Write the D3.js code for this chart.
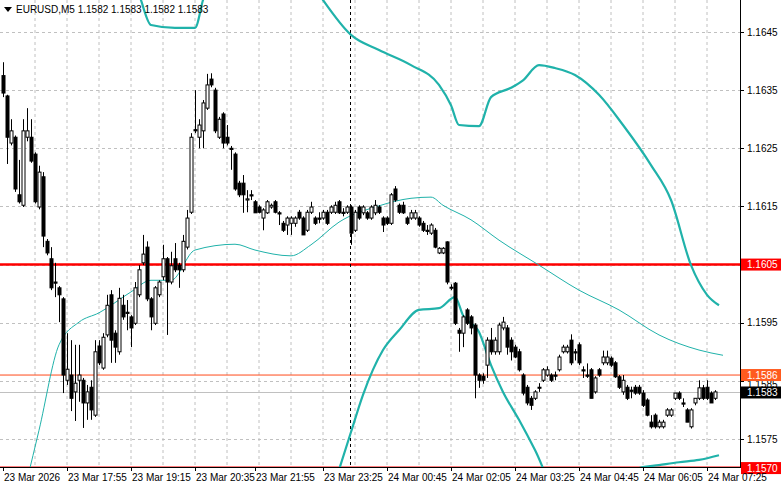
<!DOCTYPE html>
<html><head><meta charset="utf-8">
<script src="https://cdn.jsdelivr.net/npm/d3@7"></script>
<style>body{margin:0;background:#fff}svg{display:block}text{font-family:"Liberation Sans",Arial,sans-serif;font-size:10px}</style>
</head><body><svg id="c" width="781" height="489"></svg>
<script>
const opens=[1.16375,1.16340,1.16259,1.16269,1.16170,1.16152,1.16269,1.16269,1.16240,1.16149,1.16201,1.16090,1.16060,1.16020,1.16010,1.15991,1.15851,1.15860,1.15831,1.15851,1.15851,1.15812,1.15839,1.15791,1.15910,1.15872,1.15929,1.15998,1.15932,1.15900,1.15980,1.15968,1.15960,1.15949,1.15998,1.16053,1.16080,1.15991,1.15949,1.15998,1.16029,1.16060,1.16020,1.16060,1.16049,1.16041,1.16080,1.16140,1.16282,1.16269,1.16280,1.16319,1.16369,1.16350,1.16269,1.16309,1.16269,1.16250,1.16240,1.16190,1.16190,1.16161,1.16170,1.16158,1.16149,1.16130,1.16139,1.16149,1.16158,1.16139,1.16121,1.16118,1.16121,1.16121,1.16140,1.16130,1.16109,1.16140,1.16130,1.16130,1.16130,1.16140,1.16140,1.16140,1.16158,1.16140,1.16140,1.16149,1.16109,1.16149,1.16139,1.16139,1.16130,1.16139,1.16149,1.16130,1.16130,1.16121,1.16180,1.16152,1.16152,1.16130,1.16130,1.16130,1.16130,1.16121,1.16109,1.16104,1.16109,1.16070,1.16070,1.16089,1.16011,1.16018,1.15937,1.15932,1.15972,1.15960,1.15946,1.15860,1.15858,1.15877,1.15920,1.15900,1.15900,1.15941,1.15941,1.15920,1.15908,1.15900,1.15860,1.15839,1.15820,1.15820,1.15839,1.15851,1.15860,1.15860,1.15860,1.15869,1.15900,1.15900,1.15920,1.15900,1.15912,1.15869,1.15860,1.15869,1.15831,1.15869,1.15881,1.15881,1.15889,1.15881,1.15857,1.15831,1.15839,1.15834,1.15839,1.15839,1.15829,1.15817,1.15779,1.15791,1.15771,1.15771,1.15791,1.15791,1.15820,1.15829,1.15812,1.15800,1.15771,1.15812,1.15820,1.15838,1.15839,1.15829,1.15820];
const highs=[1.16398,1.16342,1.16300,1.16272,1.16230,1.16300,1.16319,1.16300,1.16243,1.16220,1.16209,1.16094,1.16080,1.16053,1.16013,1.15994,1.15932,1.15920,1.15912,1.15912,1.15855,1.15843,1.15851,1.15920,1.15920,1.15932,1.15998,1.16006,1.15937,1.16010,1.15998,1.15989,1.15963,1.16020,1.16049,1.16101,1.16090,1.15994,1.16013,1.16023,1.16084,1.16063,1.16072,1.16087,1.16053,1.16101,1.16144,1.16276,1.16350,1.16300,1.16333,1.16378,1.16379,1.16354,1.16304,1.16312,1.16290,1.16254,1.16243,1.16194,1.16204,1.16178,1.16178,1.16161,1.16152,1.16147,1.16161,1.16155,1.16161,1.16142,1.16125,1.16133,1.16133,1.16133,1.16144,1.16133,1.16144,1.16158,1.16133,1.16140,1.16144,1.16144,1.16152,1.16158,1.16161,1.16147,1.16152,1.16152,1.16144,1.16152,1.16152,1.16142,1.16152,1.16161,1.16152,1.16133,1.16133,1.16173,1.16185,1.16155,1.16158,1.16133,1.16144,1.16144,1.16133,1.16125,1.16118,1.16121,1.16113,1.16080,1.16080,1.16090,1.16016,1.16020,1.15941,1.15963,1.15975,1.15963,1.15949,1.15863,1.15863,1.15925,1.15941,1.15925,1.15950,1.15960,1.15946,1.15925,1.15912,1.15905,1.15863,1.15843,1.15824,1.15834,1.15846,1.15872,1.15875,1.15863,1.15866,1.15895,1.15912,1.15912,1.15930,1.15905,1.15916,1.15875,1.15880,1.15872,1.15858,1.15872,1.15902,1.15902,1.15892,1.15884,1.15860,1.15860,1.15843,1.15840,1.15843,1.15843,1.15834,1.15820,1.15791,1.15794,1.15783,1.15783,1.15803,1.15803,1.15829,1.15832,1.15820,1.15803,1.15803,1.15820,1.15851,1.15843,1.15851,1.15832,1.15834];
const lows=[1.16338,1.16223,1.16255,1.16175,1.16155,1.16149,1.16262,1.16225,1.16155,1.16145,1.16080,1.16066,1.16006,1.15994,1.15951,1.15829,1.15843,1.15798,1.15781,1.15814,1.15769,1.15783,1.15783,1.15788,1.15877,1.15869,1.15925,1.15881,1.15881,1.15895,1.15955,1.15937,1.15908,1.15946,1.15994,1.16049,1.15987,1.15937,1.15946,1.15994,1.16023,1.15929,1.16016,1.16037,1.16010,1.16037,1.16076,1.16137,1.16276,1.16250,1.16250,1.16316,1.16355,1.16276,1.16266,1.16250,1.16255,1.16213,1.16177,1.16166,1.16139,1.16140,1.16161,1.16139,1.16138,1.16109,1.16137,1.16146,1.16138,1.16118,1.16106,1.16101,1.16101,1.16115,1.16127,1.16101,1.16106,1.16137,1.16118,1.16121,1.16127,1.16118,1.16137,1.16137,1.16137,1.16133,1.16137,1.16084,1.16106,1.16127,1.16135,1.16127,1.16127,1.16135,1.16137,1.16106,1.16118,1.16118,1.16158,1.16137,1.16137,1.16118,1.16127,1.16127,1.16115,1.16106,1.16101,1.16101,1.16078,1.16068,1.16068,1.16016,1.16006,1.15946,1.15900,1.15908,1.15946,1.15930,1.15820,1.15838,1.15845,1.15855,1.15895,1.15895,1.15895,1.15937,1.15895,1.15885,1.15889,1.15866,1.15825,1.15808,1.15800,1.15817,1.15831,1.15848,1.15857,1.15848,1.15851,1.15866,1.15897,1.15897,1.15877,1.15885,1.15877,1.15855,1.15855,1.15820,1.15828,1.15857,1.15877,1.15877,1.15874,1.15855,1.15836,1.15826,1.15817,1.15820,1.15826,1.15826,1.15805,1.15789,1.15768,1.15768,1.15768,1.15768,1.15788,1.15788,1.15817,1.15817,1.15805,1.15779,1.15768,1.15808,1.15817,1.15817,1.15817,1.15812,1.15817];
const closes=[1.16345,1.16269,1.16280,1.16180,1.16158,1.16280,1.16280,1.16228,1.16158,1.16209,1.16099,1.16070,1.16010,1.16018,1.15998,1.15860,1.15870,1.15820,1.15846,1.15860,1.15812,1.15831,1.15800,1.15900,1.15881,1.15925,1.15980,1.15920,1.15908,1.15992,1.15960,1.15966,1.15941,1.16010,1.16041,1.16068,1.15991,1.15960,1.16010,1.16020,1.16060,1.16020,1.16048,1.16041,1.16041,1.16090,1.16130,1.16269,1.16280,1.16290,1.16328,1.16359,1.16359,1.16280,1.16300,1.16259,1.16259,1.16248,1.16180,1.16170,1.16170,1.16163,1.16168,1.16139,1.16140,1.16144,1.16158,1.16152,1.16140,1.16137,1.16109,1.16130,1.16130,1.16130,1.16130,1.16101,1.16140,1.16149,1.16121,1.16128,1.16140,1.16121,1.16149,1.16152,1.16139,1.16138,1.16149,1.16104,1.16140,1.16130,1.16149,1.16130,1.16149,1.16152,1.16140,1.16118,1.16121,1.16170,1.16161,1.16140,1.16139,1.16121,1.16139,1.16139,1.16118,1.16109,1.16107,1.16118,1.16080,1.16078,1.16078,1.16020,1.16011,1.15949,1.15932,1.15960,1.15949,1.15941,1.15860,1.15851,1.15851,1.15920,1.15900,1.15920,1.15946,1.15951,1.15908,1.15900,1.15891,1.15869,1.15829,1.15812,1.15808,1.15831,1.15838,1.15869,1.15869,1.15851,1.15858,1.15891,1.15908,1.15908,1.15881,1.15898,1.15881,1.15867,1.15858,1.15820,1.15855,1.15860,1.15891,1.15891,1.15877,1.15857,1.15839,1.15851,1.15820,1.15832,1.15829,1.15829,1.15808,1.15791,1.15771,1.15771,1.15779,1.15779,1.15800,1.15800,1.15829,1.15820,1.15810,1.15779,1.15800,1.15820,1.15838,1.15820,1.15820,1.15812,1.15831];
const upperIdx=[25,34,37,43,48,50,53,67,80,87,94,102,109,112,114,119,122,127,130,134,138,143,149,155,162,167,172,176,179];
const upperVal=[1.16603,1.16514,1.16462,1.16457,1.16457,1.16505,1.16574,1.16660,1.16505,1.16445,1.16419,1.16393,1.16359,1.16324,1.16290,1.16288,1.16338,1.16354,1.16367,1.16393,1.16388,1.16376,1.16342,1.16290,1.16221,1.16161,1.16049,1.15998,1.15980];
const lowerIdx=[84,87,90,95,99,104,109,113,115,119,122,125,129,133,139,149,159,164,169,174,179];
const lowerVal=[1.15697,1.15762,1.15826,1.15903,1.15937,1.15972,1.15975,1.15994,1.15963,1.15934,1.15877,1.15831,1.15783,1.15731,1.15645,1.15611,1.15700,1.15705,1.15710,1.15714,1.15722];
const midIdx=[6,9,14,19,24,32,37,42,48,58,63,72,77,84,94,102,107,110,117,124,134,144,154,164,174,180];
const midVal=[1.15679,1.15765,1.15912,1.15951,1.15967,1.16003,1.16023,1.16023,1.16075,1.16085,1.16075,1.16065,1.16084,1.16123,1.16151,1.16164,1.16166,1.16152,1.16127,1.16092,1.16049,1.16006,1.15972,1.15929,1.15903,1.15894];
const priceTicks=[1.1645,1.1635,1.1625,1.1615,1.1605,1.1595,1.1585,1.1575];
const timeLabels=["23 Mar 2026","23 Mar 17:55","23 Mar 19:15","23 Mar 20:35","23 Mar 21:55","23 Mar 23:25","24 Mar 00:45","24 Mar 02:05","24 Mar 03:25","24 Mar 04:45","24 Mar 06:05","24 Mar 07:25"];
const timeIdx=[0,16,32,48,63,80,96,112,128,144,160,176];
const levels=[{v:1.1605,c:"#ff0000",w:2.5,bg:"#ff0000"},{v:1.1570,c:"#ff0000",w:3,bg:"#ff0000"},{v:1.1586,c:"#ff4a1a",w:1,bg:"#ff5a1e"},{v:1.1583,c:"#c0c0c0",w:1,bg:"#000000"}];
const title="EURUSD,M5  1.1582 1.1583 1.1582 1.1583";

const W=740,H=467;
const svg=d3.select("#c");
const x=d3.scaleLinear().domain([0,178]).range([3,715]);
const y=d3.scaleLinear().domain([1.1575,1.1645]).range([439,32]);
svg.append("defs").append("clipPath").attr("id","cp").append("rect").attr("width",W).attr("height",H);
const plot=svg.append("g").attr("clip-path","url(#cp)");
const gx=d3.range(8,180,8);
plot.selectAll(".vg").data(gx).join("line").attr("x1",d=>x(d)).attr("x2",d=>x(d)).attr("y1",0).attr("y2",H).attr("stroke","#c0c0c0").attr("stroke-dasharray","3,3");
plot.selectAll(".hg").data(priceTicks).join("line").attr("x1",0).attr("x2",W).attr("y1",d=>Math.round(y(d))+.5).attr("y2",d=>Math.round(y(d))+.5).attr("stroke","#c0c0c0").attr("stroke-dasharray","3,3");
levels.forEach(l=>plot.append("line").attr("x1",0).attr("x2",W).attr("y1",y(l.v)).attr("y2",y(l.v)).attr("stroke",l.c).attr("stroke-width",l.w));
plot.append("line").attr("x1",x(87)-.5).attr("x2",x(87)-.5).attr("y1",0).attr("y2",H).attr("stroke","#000").attr("stroke-dasharray","3,3");
const line=(I,V)=>d3.line().x((d,i)=>x(I[i])).y((d,i)=>y(V[i])).curve(d3.curveMonotoneX)(V);
plot.append("path").attr("d",line(midIdx,midVal)).attr("fill","none").attr("stroke","#20b2aa").attr("stroke-width",1);
plot.append("path").attr("d",line(upperIdx,upperVal)).attr("fill","none").attr("stroke","#20b2aa").attr("stroke-width",2.2);
plot.append("path").attr("d",line(lowerIdx,lowerVal)).attr("fill","none").attr("stroke","#20b2aa").attr("stroke-width",2.2);
const idx=d3.range(closes.length);
plot.selectAll(".wk").data(idx).join("line").attr("x1",i=>x(i)+.5).attr("x2",i=>x(i)+.5).attr("y1",i=>y(highs[i])).attr("y2",i=>y(lows[i])).attr("stroke","#000");
plot.selectAll(".bd").data(idx).join("rect").attr("x",i=>x(i)-1).attr("width",3)
 .attr("y",i=>y(Math.max(opens[i],closes[i]))).attr("height",i=>Math.max(1,Math.abs(y(opens[i])-y(closes[i]))))
 .attr("fill",i=>closes[i]>=opens[i]?"#fff":"#000").attr("stroke","#000").attr("stroke-width",1);
svg.append("line").attr("x1",W+.5).attr("x2",W+.5).attr("y1",0).attr("y2",H+1).attr("stroke","#000");
svg.append("line").attr("x1",0).attr("x2",W+1).attr("y1",H+.5).attr("y2",H+.5).attr("stroke","#000");
priceTicks.forEach(p=>{svg.append("line").attr("x1",W).attr("x2",W+4).attr("y1",Math.round(y(p))+.5).attr("y2",Math.round(y(p))+.5).attr("stroke","#000");
 if(p!==1.1585) svg.append("text").attr("x",W+7).attr("y",y(p)+3.5).text(d3.format(".4f")(p));});
// 1.1585 tick label is partly hidden behind the 1.1586 marker, as in the reference
svg.append("text").attr("x",W+7).attr("y",y(1.1585)+7).attr("font-size","9px").text("1.1585");
levels.forEach(l=>{const yy=y(l.v);svg.append("rect").attr("x",W+1).attr("y",yy-6).attr("width",40).attr("height",12).attr("fill",l.bg);
 svg.append("text").attr("x",W+7).attr("y",yy+3.5).attr("fill","#fff").text(d3.format(".4f")(l.v));});
timeIdx.forEach((t,k)=>{svg.append("line").attr("x1",x(t)+.5).attr("x2",x(t)+.5).attr("y1",H).attr("y2",H+4).attr("stroke","#000");
 svg.append("text").attr("x",x(t)+1).attr("y",H+14).text(timeLabels[k]);});
svg.append("path").attr("d","M4,7 L12,7 L8,12 Z").attr("fill","#000");
svg.append("text").attr("x",16).attr("y",13).text(title);
</script></body></html>
